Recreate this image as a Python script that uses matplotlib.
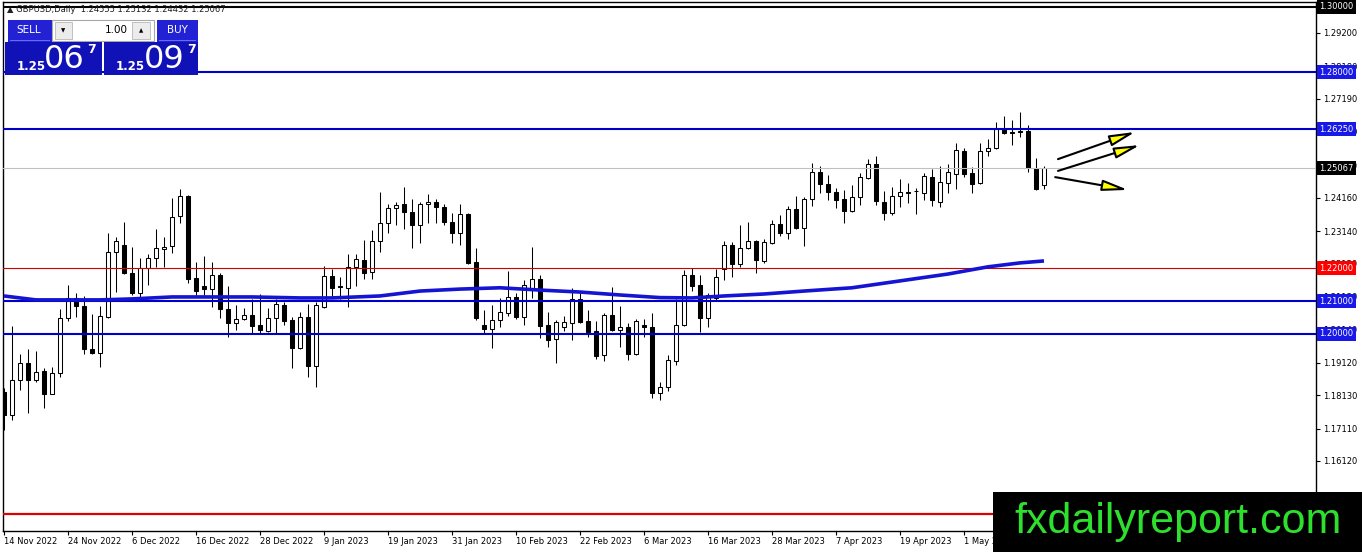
import numpy as np
import matplotlib.pyplot as plt
from matplotlib.patches import Rectangle

W, H = 1362, 552

# ---- datos (GBPUSD diario) ----
fechas = ['14 Nov 2022', '24 Nov 2022', '6 Dec 2022', '16 Dec 2022', '28 Dec 2022', '9 Jan 2023',
          '19 Jan 2023', '31 Jan 2023', '10 Feb 2023', '22 Feb 2023', '6 Mar 2023', '16 Mar 2023',
          '28 Mar 2023', '7 Apr 2023', '19 Apr 2023', '1 May 2023']
fechas_idx = list(range(0, 128, 8))

aperturas = [
    1.1823, 1.1753, 1.1860, 1.1911, 1.1860, 1.1887, 1.1817, 1.1881, 1.2049, 1.2110,
    1.2086, 1.1954, 1.1942, 1.2052, 1.2250, 1.2272, 1.2186, 1.2125, 1.2202, 1.2232,
    1.2260, 1.2269, 1.2360, 1.2421, 1.2171, 1.2147, 1.2137, 1.2180, 1.2076, 1.2034,
    1.2046, 1.2058, 1.2027, 1.2009, 1.2049, 1.2088, 1.2043, 1.1957, 1.2052, 1.1902,
    1.2082, 1.2177, 1.2147, 1.2141, 1.2205, 1.2226, 1.2189, 1.2284, 1.2339, 1.2385,
    1.2397, 1.2373, 1.2333, 1.2397, 1.2403, 1.2388, 1.2342, 1.2308, 1.2366, 1.2220,
    1.2027, 1.2015, 1.2043, 1.2064, 1.2113, 1.2052, 1.2134, 1.2168, 1.2027, 1.1985,
    1.2021, 1.2034, 1.2107, 1.2040, 1.2009, 1.1936, 1.2058, 1.2012, 1.2021, 1.1939,
    1.2027, 1.2021, 1.1820, 1.1838, 1.1918, 1.2027, 1.2180, 1.2150, 1.2049, 1.2110,
    1.2198, 1.2272, 1.2214, 1.2263, 1.2284, 1.2223, 1.2278, 1.2336, 1.2308, 1.2382,
    1.2324, 1.2412, 1.2495, 1.2458, 1.2434, 1.2412, 1.2376, 1.2418, 1.2476, 1.2519,
    1.2403, 1.2370, 1.2421, 1.2434, 1.2437, 1.2431, 1.2479, 1.2403, 1.2461, 1.2489,
    1.2559, 1.2492, 1.2461, 1.2559, 1.2568, 1.2626, 1.2617, 1.2620, 1.2620, 1.2507,
    1.24555]
maximos = [
    1.1835, 1.2024, 1.1939, 1.1954, 1.1948, 1.1896, 1.1899, 1.2076, 1.2150, 1.2125,
    1.2116, 1.2061, 1.2086, 1.2308, 1.2296, 1.2342, 1.2266, 1.2232, 1.2244, 1.2321,
    1.2296, 1.2415, 1.2443, 1.2424, 1.2220, 1.2238, 1.2220, 1.2186, 1.2147, 1.2088,
    1.2079, 1.2107, 1.2122, 1.2079, 1.2107, 1.2098, 1.2052, 1.2067, 1.2092, 1.2098,
    1.2208, 1.2198, 1.2174, 1.2244, 1.2244, 1.2287, 1.2318, 1.2434, 1.2397, 1.2403,
    1.2449, 1.2412, 1.2403, 1.2427, 1.2412, 1.2397, 1.2369, 1.2397, 1.2369, 1.2263,
    1.2073, 1.2088, 1.2110, 1.2192, 1.2125, 1.2165, 1.2266, 1.2180, 1.2067, 1.2043,
    1.2055, 1.2141, 1.2131, 1.2073, 1.2040, 1.2064, 1.2144, 1.2085, 1.2034, 1.2046,
    1.2046, 1.2064, 1.1853, 1.1936, 1.2107, 1.2195, 1.2202, 1.2180, 1.2125, 1.2198,
    1.2284, 1.2281, 1.2333, 1.2342, 1.2287, 1.2290, 1.2348, 1.2363, 1.2391, 1.2421,
    1.2418, 1.2522, 1.2513, 1.2486, 1.2446, 1.2440, 1.2455, 1.2492, 1.2534, 1.2543,
    1.2437, 1.2449, 1.2473, 1.2461, 1.2446, 1.2492, 1.2504, 1.2513, 1.2519, 1.2583,
    1.2568, 1.2510, 1.2583, 1.2595, 1.2647, 1.2665, 1.2653, 1.2678, 1.2638, 1.2537,
    1.25132]
minimos = [
    1.1707, 1.1737, 1.1829, 1.1759, 1.1853, 1.1774, 1.1815, 1.1869, 1.2040, 1.2052,
    1.1939, 1.1938, 1.1899, 1.2049, 1.2128, 1.2183, 1.2119, 1.2110, 1.2150, 1.2205,
    1.2205, 1.2247, 1.2339, 1.2156, 1.2119, 1.2119, 1.2082, 1.2049, 1.1991, 1.2012,
    1.2043, 1.2003, 1.2003, 1.2006, 1.2003, 1.2027, 1.1896, 1.1954, 1.1869, 1.1838,
    1.2079, 1.2110, 1.2107, 1.2082, 1.2147, 1.2168, 1.2168, 1.2250, 1.2308, 1.2333,
    1.2321, 1.2263, 1.2278, 1.2339, 1.2339, 1.2333, 1.2278, 1.2272, 1.2214, 1.2043,
    1.2003, 1.1957, 1.2021, 1.2055, 1.2046, 1.2027, 1.2110, 1.1988, 1.1960, 1.1911,
    1.2009, 1.1982, 1.2034, 1.1991, 1.1924, 1.1918, 1.2009, 1.1960, 1.1921, 1.1936,
    1.1991, 1.1805, 1.1798, 1.1826, 1.1905, 1.2024, 1.2131, 1.2006, 1.2021, 1.2104,
    1.2165, 1.2174, 1.2205, 1.2260, 1.2186, 1.2217, 1.2275, 1.2299, 1.2290, 1.2321,
    1.2269, 1.2391, 1.2431, 1.2409, 1.2385, 1.2339, 1.2373, 1.2394, 1.2474, 1.2394,
    1.2348, 1.2363, 1.2388, 1.2400, 1.2366, 1.2409, 1.2391, 1.2388, 1.2431, 1.2443,
    1.2479, 1.2431, 1.2458, 1.2543, 1.2565, 1.2611, 1.2577, 1.2601, 1.2495, 1.2440,
    1.24432]
cierres = [
    1.1753, 1.1860, 1.1911, 1.1860, 1.1884, 1.1817, 1.1881, 1.2049, 1.2110, 1.2086,
    1.1954, 1.1942, 1.2055, 1.2250, 1.2284, 1.2186, 1.2125, 1.2202, 1.2232, 1.2263,
    1.2266, 1.2357, 1.2421, 1.2168, 1.2131, 1.2137, 1.2180, 1.2076, 1.2034, 1.2046,
    1.2058, 1.2024, 1.2012, 1.2049, 1.2092, 1.2040, 1.1957, 1.2052, 1.1902, 1.2088,
    1.2177, 1.2141, 1.2144, 1.2205, 1.2229, 1.2186, 1.2284, 1.2339, 1.2385, 1.2394,
    1.2373, 1.2333, 1.2397, 1.2403, 1.2388, 1.2342, 1.2308, 1.2366, 1.2217, 1.2049,
    1.2015, 1.2043, 1.2067, 1.2113, 1.2052, 1.2150, 1.2168, 1.2024, 1.1982, 1.2037,
    1.2037, 1.2107, 1.2037, 1.2006, 1.1933, 1.2058, 1.2012, 1.2021, 1.1939, 1.2040,
    1.2021, 1.1820, 1.1838, 1.1921, 1.2027, 1.2180, 1.2147, 1.2049, 1.2119, 1.2174,
    1.2272, 1.2214, 1.2263, 1.2284, 1.2226, 1.2281, 1.2336, 1.2308, 1.2382, 1.2324,
    1.2412, 1.2495, 1.2458, 1.2434, 1.2409, 1.2376, 1.2418, 1.2479, 1.2519, 1.2406,
    1.2370, 1.2421, 1.2434, 1.2431, 1.2436, 1.2482, 1.2409, 1.2464, 1.2495, 1.2562,
    1.2489, 1.2458, 1.2559, 1.2568, 1.2626, 1.2614, 1.2614, 1.2617, 1.2507, 1.2443,
    1.25067]

# media movil (puntos leidos)
ma_idx = [0, 2, 4, 12, 16, 21, 31, 37, 41, 47, 52, 57, 62, 67, 72, 77, 82, 86, 90, 95,
          100, 106, 112, 118, 123, 127, 130]
ma_val = [1.2116, 1.2110, 1.2104, 1.2104, 1.2107, 1.2113, 1.2113, 1.2110, 1.2110, 1.2116,
          1.2131, 1.2137, 1.2141, 1.2134, 1.2128, 1.2119, 1.2111, 1.2110, 1.2116, 1.2122,
          1.2131, 1.2141, 1.2162, 1.2183, 1.2205, 1.2217, 1.2223]

# lineas horizontales: nivel, color de linea, grosor, color de etiqueta
niveles = [1.30000, 1.28000, 1.26250, 1.25067, 1.22000, 1.21000, 1.20000]
niveles_color = ['black', '#0000c8', '#0000c8', '#c0c0c0', '#d00000', '#0000c8', '#0000c8']
niveles_lw = [1.5, 1.5, 1.5, 0.8, 0.8, 1.5, 1.5]
etiqueta_color = ['black', '#1818e8', '#1818e8', 'black', '#ff0000', '#1818e8', '#1818e8']
nivel_inferior = 1.1450

yticks = [1.29200, 1.28180, 1.27190, 1.26170, 1.25150, 1.24160, 1.23140, 1.22150,
          1.21130, 1.20140, 1.19120, 1.18130, 1.17110, 1.16120]

# flechas (inicio -> fin) en barras / precio
flechas = [((131.75, 1.2534), (141.4, 1.2617)),
           ((131.75, 1.2498), (142.0, 1.2577)),
           ((131.4, 1.2479), (140.5, 1.2440))]

plt.rcParams['font.family'] = ['DejaVu Sans']

fig = plt.figure(figsize=(W / 100, H / 100), dpi=100)
fig.patch.set_facecolor('white')
ax = fig.add_axes([2.7 / W, 21 / H, (1316 - 2.7) / W, 529 / H])

x = np.arange(len(cierres))
o = np.array(aperturas)
c = np.array(cierres)
subida = c >= o

# mechas
ax.vlines(x, minimos, maximos, color='black', lw=0.75, zorder=2)
# cuerpos
base = np.minimum(o, c)
alto = np.maximum(np.abs(c - o), 0.00004)
colores = np.where(subida, 'white', 'black')
ax.bar(x, alto, bottom=base, width=0.6, color=colores, edgecolor='black', linewidth=0.75, zorder=2.2)

for nivel, col, lw in zip(niveles, niveles_color, niveles_lw):
    ax.axhline(nivel, color=col, lw=lw, zorder=3)
ax.axhline(nivel_inferior, color='#dd0000', lw=1.6, zorder=3)

ax.plot(ma_idx, ma_val, color='#1414d2', lw=2.6, zorder=4, solid_capstyle='butt')

for (x0, y0), (x1, y1) in flechas:
    ax.annotate('', xy=(x1, y1), xytext=(x0, y0),
                arrowprops=dict(arrowstyle='-|>,head_length=1.4,head_width=0.3',
                                fc='#ffff00', ec='black', lw=1.5, mutation_scale=11,
                                shrinkA=0, shrinkB=0), zorder=5)

ax.set_xlim(-0.16, 164)
ax.set_ylim(1.1398, 1.3014)

ax.yaxis.tick_right()
ax.set_yticks(yticks)
ax.set_yticklabels([f'{v:.5f}' for v in yticks])
ax.tick_params(axis='y', length=3, pad=2, labelsize=6, width=0.8)
ax.set_xticks(fechas_idx)
ax.set_xticklabels(fechas)
plt.setp(ax.get_xticklabels(), ha='left')
ax.tick_params(axis='x', length=3, pad=1.5, labelsize=6, width=0.8)
for s in ax.spines.values():
    s.set_color('black')
    s.set_linewidth(1)

# etiquetas de precio a la derecha
tr = ax.get_yaxis_transform()
for nivel, col in zip(niveles, etiqueta_color):
    ax.text(1.0025, nivel, f'{nivel:.5f}', transform=tr, ha='left', va='center',
            fontsize=6, color='white', clip_on=False, zorder=6,
            bbox=dict(boxstyle='square,pad=0.3', fc=col, ec='none'))


# ---- panel de operaciones arriba a la izquierda ----
def rect(x0, y0, x1, y1, **kw):
    fig.add_artist(Rectangle((x0 / W, 1 - y1 / H), (x1 - x0) / W, (y1 - y0) / H,
                             transform=fig.transFigure, **kw))


def texto(xp, yp, s, **kw):
    fig.text(xp / W, 1 - yp / H, s, **kw)


texto(7, 10, '▲ GBPUSD,Daily  1.24555 1.25132 1.24432 1.25067', fontsize=6,
      va='center', color='#202020')
rect(8, 20, 52, 42, fc='#2222d4', ec='none')
rect(52, 20, 154, 41, fc='white', ec='#a8a8a8', lw=0.8)
rect(55, 22, 72, 39, fc='#ececec', ec='#b8b8b8', lw=0.6)
rect(132, 22, 150, 39, fc='#ececec', ec='#b8b8b8', lw=0.6)
rect(157, 20, 198, 42, fc='#2222d4', ec='none')
rect(5, 42, 102, 75, fc='#1111b8', ec='none')
rect(104, 42, 198, 75, fc='#1111b8', ec='none')
rect(10, 40, 50, 41, fc='#6a6aff', ec='none')
rect(159, 40, 196, 41, fc='#6a6aff', ec='none')
texto(29, 30, 'SELL', fontsize=7.5, color='white', ha='center', va='center')
texto(177, 30, 'BUY', fontsize=7.5, color='white', ha='center', va='center')
texto(63.5, 30.5, '▼', fontsize=4, color='black', ha='center', va='center')
texto(141, 30.5, '▲', fontsize=4, color='black', ha='center', va='center')
texto(128, 30, '1.00', fontsize=7.5, color='black', ha='right', va='center')
texto(31, 67, '1.25', fontsize=8.5, color='white', ha='center', va='center', fontweight='bold')
texto(64, 59, '06', fontsize=23, color='white', ha='center', va='center')
texto(91, 49, '7', fontsize=9, color='white', ha='center', va='center', fontweight='bold')
texto(130, 67, '1.25', fontsize=8.5, color='white', ha='center', va='center', fontweight='bold')
texto(164, 59, '09', fontsize=23, color='white', ha='center', va='center')
texto(191, 49, '7', fontsize=9, color='white', ha='center', va='center', fontweight='bold')

# marca de agua
rect(993, 492, W, H, fc='black', ec='none', zorder=10)
fig.text((1010 + 1346) / 2 / W, 1 - 533 / H, 'fxdailyreport.com', color='#2ee02e',
         fontsize=31, family='Liberation Sans', ha='center', va='baseline', zorder=11)

fig.savefig('out.png', dpi=100)
